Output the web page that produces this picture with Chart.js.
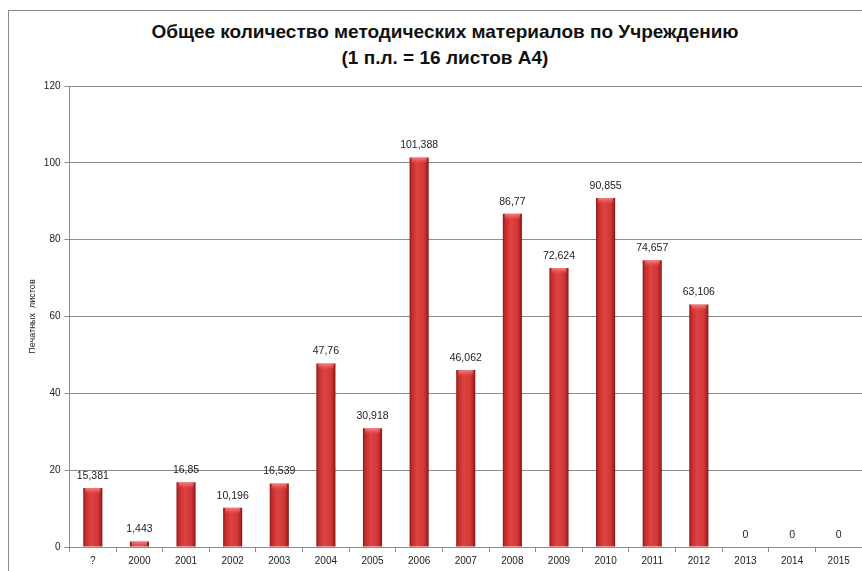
<!DOCTYPE html>
<html>
<head>
<meta charset="utf-8">
<script src="https://cdn.jsdelivr.net/npm/chart.js@4.4.1/dist/chart.umd.min.js"></script>
<style>
  html, body { margin: 0; padding: 0; background: #fff; overflow: hidden; }
  #frame { position: absolute; left: 8px; top: 10px; width: 900px; height: 600px;
           border-left: 1px solid #8c8c8c; border-top: 1px solid #8c8c8c; }
  #title { position: absolute; left: 95px; width: 700px; top: 19px; text-align: center;
           font: bold 19px "Liberation Sans", Arial, sans-serif; line-height: 26px; color: #111; }
  #wrap { position: absolute; left: 0; top: 0; width: 862px; height: 571px; }
</style>
</head>
<body>
<div id="frame"></div>
<div id="title">Общее количество методических материалов по Учреждению<br>(1 п.л. = 16 листов А4)</div>
<div id="wrap"><canvas id="chart" width="862" height="571"></canvas></div>
<script>
const years = ['?', '2000', '2001', '2002', '2003', '2004', '2005', '2006', '2007',
               '2008', '2009', '2010', '2011', '2012', '2013', '2014', '2015']
const sheets = [15.381, 1.443, 16.85, 10.196, 16.539, 47.76, 30.918, 101.388, 46.062,
                86.77, 72.624, 90.855, 74.657, 63.106, 0, 0, 0]
const yTicks = [0, 20, 40, 60, 80, 100, 120]

const gridGray = '#8c8c8c'
const tickFont = { family: '"Liberation Sans", Arial, sans-serif', size: 10 }

function barFill(ctx) {
    const chart = ctx.chart
    const xScale = chart.scales.x
    if (!chart.chartArea || !xScale || ctx.dataIndex === undefined) return '#d23a3a'
    const cx = xScale.getPixelForValue(ctx.dataIndex)
    const half = (xScale.width / years.length) * 0.41 / 2
    const g = chart.ctx.createLinearGradient(cx - half, 0, cx + half, 0)
    g.addColorStop(0, '#8c1818')
    g.addColorStop(0.12, '#c42c2c')
    g.addColorStop(0.4, '#de4242')
    g.addColorStop(0.75, '#d23838')
    g.addColorStop(0.92, '#aa2222')
    g.addColorStop(1, '#7e1515')
    return g
}

const valueLabels = {
    id: 'valueLabels',
    afterDatasetsDraw(chart) {
        const ctx = chart.ctx
        const meta = chart.getDatasetMeta(0)
        ctx.save()
        ctx.font = '10.5px "Liberation Sans", Arial, sans-serif'
        ctx.textAlign = 'center'
        ctx.textBaseline = 'middle'
        meta.data.forEach((bar, i) => {
            // light cap on top of each bar
            if (sheets[i] > 0) {
                const w = bar.width
                const cap = ctx.createLinearGradient(0, bar.y, 0, bar.y + 6)
                cap.addColorStop(0, 'rgba(255,150,150,0.75)')
                cap.addColorStop(1, 'rgba(255,120,120,0)')
                ctx.fillStyle = cap
                ctx.fillRect(bar.x - w / 2 + 2, bar.y, w - 4, 6)
            }
            ctx.fillStyle = '#222'
            ctx.fillText(String(sheets[i]).replace('.', ','), bar.x, bar.y - 12)
        })
        ctx.restore()
    }
}

new Chart(document.getElementById('chart').getContext('2d'), {
    type: 'bar',
    data: {
        labels: years,
        datasets: [{
            data: sheets,
            backgroundColor: barFill,
            barPercentage: 0.41,
            categoryPercentage: 1
        }]
    },
    options: {
        responsive: false,
        animation: false,
        layout: { padding: { top: 86, left: 0, right: 0, bottom: 0 } },
        plugins: { legend: { display: false }, tooltip: { enabled: false } },
        scales: {
            x: {
                afterFit: scale => { scale.height = 24 },
                grid: { offset: true, drawOnChartArea: false, tickLength: 5, color: gridGray },
                border: { color: gridGray },
                ticks: { font: tickFont, color: '#222', padding: 3, maxRotation: 0, autoSkip: false }
            },
            y: {
                min: 0,
                max: 120,
                afterFit: scale => { scale.width = 69.5 },
                afterBuildTicks: scale => { scale.ticks = yTicks.map(v => ({ value: v })) },
                grid: { color: gridGray, tickLength: 5 },
                border: { color: gridGray },
                ticks: { font: tickFont, color: '#222', padding: 4 },
                title: {
                    display: true,
                    text: 'Печатных  листов',
                    font: { family: '"Liberation Sans", Arial, sans-serif', size: 9 },
                    color: '#222',
                    padding: { top: 27, bottom: 0 }
                }
            }
        }
    },
    plugins: [valueLabels]
})
</script>
</body>
</html>
